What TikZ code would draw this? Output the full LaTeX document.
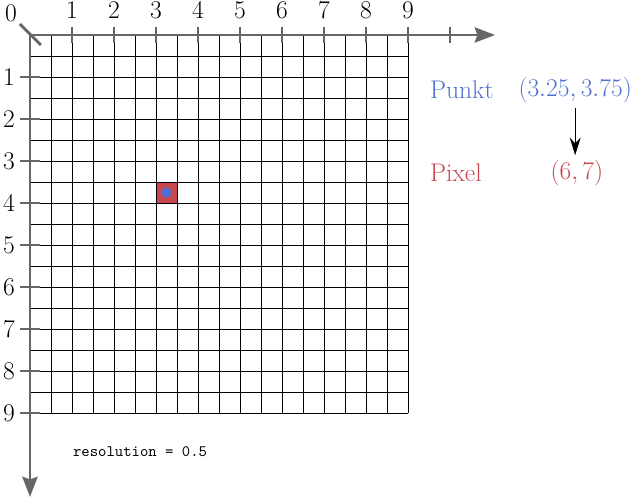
\documentclass[tikz,border=0pt]{standalone}
\usepackage{xcolor}
\usepackage{tikz}
\usepackage{amsmath,amssymb}
\usetikzlibrary{arrows.meta, positioning, calc}
\definecolor{axisgray}{HTML}{666666}
\definecolor{punktblue}{HTML}{4F70D2}
\definecolor{pixelred}{HTML}{C8464E}

\begin{document}
\begin{tikzpicture}
  \useasboundingbox (-0.714,0.833) rectangle (14.571,-11.048);

  \draw[black, line width=0.6pt, step=0.5] (0,0) grid (9,-9);
  \fill[pixelred] (3,-3.5) rectangle (3.5,-4);
  \draw[black, line width=0.6pt] (3,-3.5) rectangle (3.5,-4);
  \fill[punktblue] (3.25,-3.75) circle (0.12);

  \draw[axisgray, line width=2pt, -{Stealth[length=0.48cm, width=0.36cm, inset=0.06cm]}] (0,0) -- (11.07,0);
  \draw[axisgray, line width=2pt, -{Stealth[length=0.48cm, width=0.36cm, inset=0.06cm]}] (0,0) -- (0,-11.0);
  \draw[axisgray, line width=2pt] (-0.24,0.26) -- (0.26,-0.24);
  \foreach \i in {1,...,10} \draw[axisgray, line width=2pt] (\i,0.2) -- (\i,-0.2);
  \foreach \i in {1,...,9} \draw[axisgray, line width=2pt] (-0.24,-\i) -- (0.24,-\i);

  \node[font=\LARGE] at (-0.45,0.52) {$0$};
  \foreach \i in {1,...,9} \node[font=\LARGE] at (\i,0.58) {$\i$};
  \foreach \i in {1,...,9} \node[font=\LARGE] at (-0.5,-\i) {$\i$};

  \node[punktblue, font=\LARGE, anchor=west, inner sep=0pt] (punkt) at (9.52,-1.31) {Punkt};
  \node[punktblue, font=\LARGE] (punktwert) at (12.98,-1.31) {$(3.25,3.75)$};
  \node[pixelred, font=\LARGE, anchor=west, inner sep=0pt] (pixel) at (9.52,-3.29) {Pixel};
  \node[pixelred, font=\LARGE] (pixelwert) at (13.02,-3.29) {$(6,7)$};
  \draw[line width=0.7pt, -{Stealth[length=0.42cm, width=0.26cm]}] (punktwert.south) -- (punktwert.south |- pixelwert.north);

  \node[font=\fontsize{10.8}{12}\selectfont\ttfamily] (res) at (2.62,-9.93) {resolution = 0.5};
\end{tikzpicture}
\end{document}
